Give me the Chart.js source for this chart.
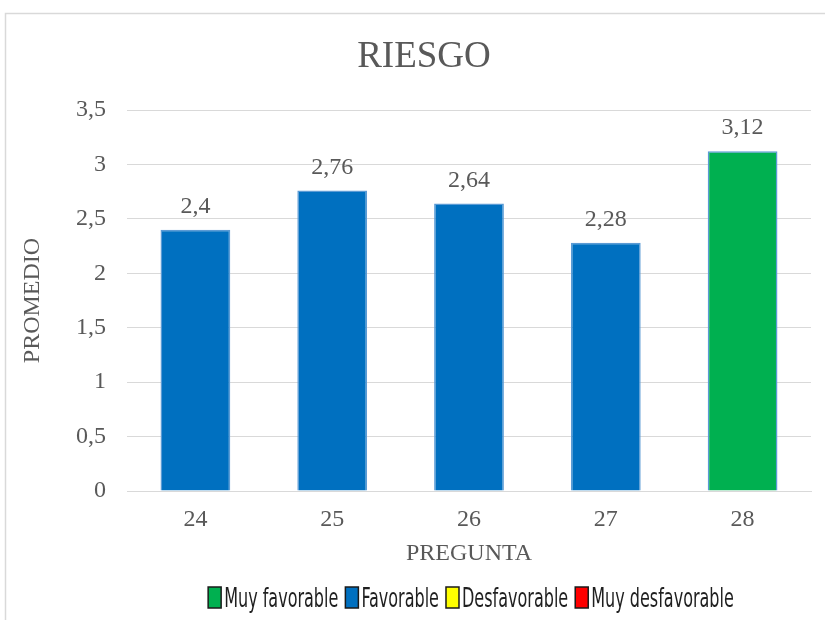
<!DOCTYPE html>
<html>
<head>
<meta charset="utf-8">
<script src="https://cdn.jsdelivr.net/npm/chart.js@4.4.1/dist/chart.umd.min.js"></script>
<style>
  html, body { margin: 0; padding: 0; background: #ffffff; }
  #wrap { position: relative; width: 825px; height: 620px; }
</style>
</head>
<body>
<div id="wrap"><canvas id="chart" width="825" height="620"></canvas></div>
<script>
// Data
const preguntas = ['24', '25', '26', '27', '28'];
const promedios = [2.4, 2.76, 2.64, 2.28, 3.12];
const nivelPorPregunta = ['Favorable', 'Favorable', 'Favorable', 'Favorable', 'Muy favorable'];
const niveles = ['Muy favorable', 'Favorable', 'Desfavorable', 'Muy desfavorable'];
const coloresNivel = ['#00B050', '#0070C0', '#FFFF00', '#FF0000'];
const yTicks = [0, 0.5, 1, 1.5, 2, 2.5, 3, 3.5];

const SERIF = '"Liberation Serif", "Times New Roman", serif';
const NARROW = '"Liberation Sans Narrow", "Arial Narrow", "DejaVu Sans Condensed", sans-serif';
const GREY = '#595959';
const GRID = '#d9d9d9';

const coma = v => String(v).replace('.', ',');
const colorDe = nivel => coloresNivel[niveles.indexOf(nivel)];

// Outer frame of the chart object (top and left edges)
const marco = {
  id: 'marco',
  beforeDraw(chart) {
    const ctx = chart.ctx;
    ctx.save();
    ctx.strokeStyle = GRID;
    ctx.lineWidth = 1.5;
    ctx.beginPath();
    ctx.moveTo(5.5, chart.height);
    ctx.lineTo(5.5, 13.5);
    ctx.lineTo(chart.width, 13.5);
    ctx.stroke();
    ctx.restore();
  }
};

// Keep the title centred on the frame rather than the padded box
const centrarTitulo = {
  id: 'centrarTitulo',
  afterLayout(chart) {
    const t = chart.titleBlock;
    if (!t) return;
    const dx = 424 - (t.left + t.right) / 2;
    t.left += dx;
    t.right += dx;
  }
};

// Value labels above each bar
const etiquetas = {
  id: 'etiquetas',
  afterDatasetsDraw(chart) {
    const ctx = chart.ctx;
    const meta = chart.getDatasetMeta(0);
    ctx.save();
    ctx.font = '24px ' + SERIF;
    ctx.fillStyle = GREY;
    ctx.textAlign = 'center';
    ctx.textBaseline = 'alphabetic';
    meta.data.forEach((bar, i) => {
      ctx.fillText(coma(chart.data.datasets[0].data[i]), bar.x, bar.y - 17);
    });
    ctx.restore();
  }
};

// Legend row with the four rating levels
const leyenda = {
  id: 'leyenda',
  afterDraw(chart) {
    const ctx = chart.ctx;
    const sx = 0.66;          // condensed lettering
    const boxW = 13, boxH = 21, gapText = 3, gapItem = 7;
    const centro = 471, boxTop = 587, base = 607;
    ctx.save();
    ctx.font = '27px ' + NARROW;
    const anchos = niveles.map(n => ctx.measureText(n).width * sx);
    const total = anchos.reduce((a, w) => a + boxW + gapText + w, 0) + gapItem * (niveles.length - 1);
    let x = centro - total / 2;
    niveles.forEach((n, i) => {
      ctx.fillStyle = coloresNivel[i];
      ctx.fillRect(x, boxTop, boxW, boxH);
      ctx.strokeStyle = '#1a1a1a';
      ctx.lineWidth = 1.5;
      ctx.strokeRect(x, boxTop, boxW, boxH);
      x += boxW + gapText;
      ctx.save();
      ctx.translate(x, base);
      ctx.scale(sx, 1);
      ctx.fillStyle = '#1f1f1f';
      ctx.textAlign = 'left';
      ctx.textBaseline = 'alphabetic';
      ctx.fillText(n, 0, 0);
      ctx.restore();
      x += anchos[i] + gapItem;
    });
    ctx.restore();
  }
};

new Chart(document.getElementById('chart'), {
  type: 'bar',
  data: {
    labels: preguntas,
    datasets: [{
      data: promedios,
      backgroundColor: nivelPorPregunta.map(colorDe),
      borderColor: '#5B9BD5',
      borderWidth: 1.5,
      categoryPercentage: 1,
      barPercentage: 0.51
    }]
  },
  options: {
    responsive: false,
    animation: false,
    devicePixelRatio: 1,
    layout: { padding: { left: 5, right: 14, top: 0, bottom: 49 } },
    plugins: {
      legend: { display: false },
      tooltip: { enabled: false },
      title: {
        display: true,
        text: 'RIESGO',
        color: GREY,
        font: { family: SERIF, size: 37, weight: 'normal', lineHeight: 1.2 },
        padding: { top: 34.8, bottom: 30.8 }
      }
    },
    scales: {
      x: {
        grid: { display: false, drawTicks: false },
        border: { display: true, color: GRID, width: 1 },
        ticks: { color: GREY, font: { family: SERIF, size: 24 }, padding: 14 },
        title: {
          display: true, text: 'PREGUNTA', color: GREY,
          font: { family: SERIF, size: 24, lineHeight: 1.2 },
          padding: { top: 0, bottom: 3 }
        },
        afterFit(s) { s.height = 80; }
      },
      y: {
        min: yTicks[0],
        max: yTicks[yTicks.length - 1],
        ticks: {
          stepSize: yTicks[1] - yTicks[0],
          color: GREY,
          font: { family: SERIF, size: 24 },
          padding: 21,
          callback: v => coma(v)
        },
        grid: { color: GRID, lineWidth: 1, drawTicks: false },
        border: { display: false },
        title: {
          display: true, text: 'PROMEDIO', color: GREY,
          font: { family: SERIF, size: 24, lineHeight: 1.2 },
          padding: { top: 13, bottom: 0 }
        },
        afterFit(s) { s.width = 122; }
      }
    }
  },
  plugins: [marco, centrarTitulo, etiquetas, leyenda]
});
</script>
</body>
</html>
